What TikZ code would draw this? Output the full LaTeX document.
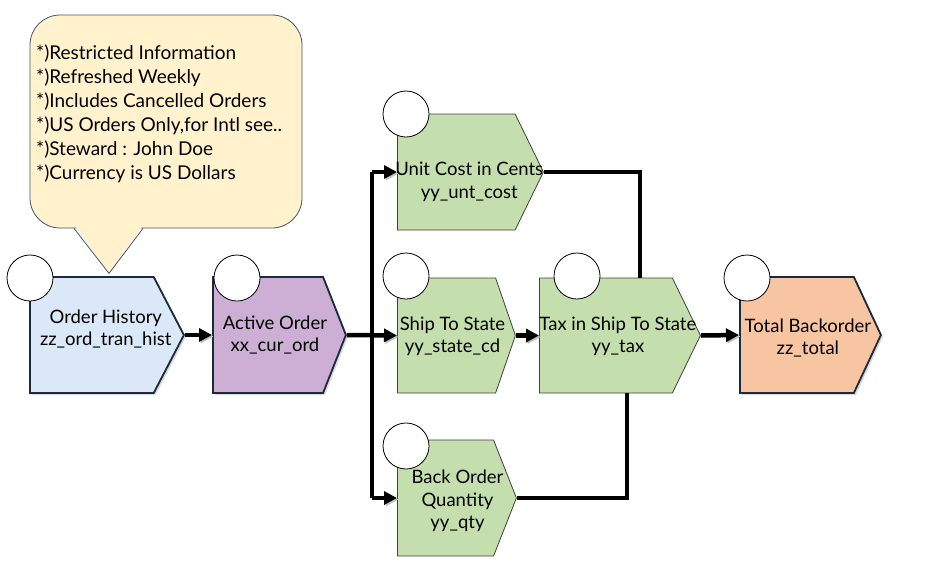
\documentclass[tikz,border=0pt]{standalone}
\usepackage{fontspec}
\setmainfont{Lato}
\usetikzlibrary{arrows.meta, positioning, shapes.symbols, shadows, calc}

\definecolor{notefill}{HTML}{FFF2CC}
\definecolor{noteline}{HTML}{44546A}
\definecolor{navy}{HTML}{1B2A3C}
\definecolor{histfill}{HTML}{DAE8F7}
\definecolor{activefill}{HTML}{CDAFD5}
\definecolor{fieldfill}{HTML}{C4DFAD}
\definecolor{totalfill}{HTML}{F8C5A2}

\begin{document}
\begin{tikzpicture}[
    x=1pt, y=-1pt,
    box/.style={
        signal,
        signal to=east,
        minimum height=116pt,
        inner sep=0pt,
        anchor=west,
    },
    stage/.style={
        box,
        draw=navy,
        line width=1.8pt,
        drop shadow={shadow xshift=2pt, shadow yshift=-2pt, opacity=0.3},
    },
    field/.style={
        box,
        draw=black!75,
        line width=0.8pt,
        fill=fieldfill,
    },
    stagetext/.style={
        align=center,
        font=\fontsize{18.5}{22.5}\selectfont,
        inner sep=0pt,
    },
    marker/.style={
        circle,
        draw,
        fill=white,
        minimum size=46pt,
        inner sep=0pt,
        line width=0.8pt,
    },
    flow/.style={
        link,
        -{Triangle[length=13pt, width=13pt]},
    },
    link/.style={
        line width=4.5pt,
        preaction={draw=black!25, transform canvas={shift={(1.5pt,-1.5pt)}}},
    },
    notebox/.style={
        draw=noteline,
        fill=notefill,
        rounded corners=30pt,
        minimum width=272pt,
        minimum height=213pt,
        line width=0.8pt,
    },
    notetext/.style={
        align=left,
        font=\fontsize{19}{24}\selectfont,
        inner sep=0pt,
        anchor=north west,
    }
]
    \useasboundingbox (0,0) rectangle (928,560);

    % Callout
    \node[notebox] (note) at (166,121.5) {};
    \fill[notefill] ($(note.south)+(-91,-2)$) -- ($(note.south)+(-57,45)$) -- ($(note.south)+(-24,-2)$) -- cycle;
    \draw[noteline, line width=0.8pt] ($(note.south)+(-92,0)$) -- ($(note.south)+(-57,45)$) -- ($(note.south)+(-23,0)$);
    \node[notetext] (notetxt) at (36,45) {*)Restricted Information\\*)Refreshed Weekly\\*)Includes Cancelled Orders\\*)US Orders Only,for Intl see..\\*)Steward : John Doe\\*)Currency is US Dollars};

    % Stages
    \node[stage, fill=histfill, minimum width=154pt, signal pointer angle=125,
        label={[stagetext, xshift=14pt, yshift=6pt]center:{Order History\\zz\_ord\_tran\_hist}}] (hist) at (29,335) {};
    \node[stage, fill=activefill, minimum width=133pt, signal pointer angle=137,
        label={[stagetext, xshift=7pt]center:{Active Order\\xx\_cur\_ord}}] (active) at (212,335) {};
    \node[field, minimum width=146pt, signal pointer angle=128,
        label={[stagetext, xshift=13pt, yshift=-10pt]center:{Unit Cost in Cents\\yy\_unt\_cost}}] (unit) at (397,172) {};
    \node[field, minimum width=118pt, minimum height=115pt, signal pointer angle=142,
        label={[stagetext, xshift=6pt, yshift=-1pt]center:{Ship To State\\yy\_state\_cd}}] (ship) at (397,335.5) {};
    \node[field, minimum width=161pt, minimum height=115pt, signal pointer angle=128,
        label={[stagetext, xshift=12pt, yshift=-1pt]center:{Tax in Ship To State\\yy\_tax}}] (tax) at (539,335.5) {};
    \node[field, minimum width=119pt, signal pointer angle=137,
        label={[stagetext, xshift=12pt, yshift=-3pt]center:{Back Order\\Quantity\\yy\_qty}}] (back) at (397,498) {};
    \node[stage, fill=totalfill, minimum width=141pt, signal pointer angle=130,
        label={[stagetext, xshift=11pt, yshift=-3pt]center:{Total Backorder\\zz\_total}}] (total) at (739,335) {};

    % Markers
    \node[marker] (histmark) at (30,278) {};
    \node[marker] (activemark) at (237,278) {};
    \node[marker] (unitmark) at (406,114) {};
    \node[marker] (shipmark) at (406,276) {};
    \node[marker] (taxmark) at (577,276) {};
    \node[marker] (backmark) at (406,446) {};
    \node[marker] (totalmark) at (747,278) {};

    % Connectors
    \coordinate (bustop) at (372,172);
    \coordinate (busbot) at (372,498);
    \draw[flow] (hist.east) -- (active.west);
    \draw[link] (bustop) -- (busbot);
    \draw[flow] (active.east) -- (ship.west);
    \draw[flow] (bustop) -- (unit.west);
    \draw[flow] (busbot) -- (back.west);
    \draw[flow] (ship.east) -- (tax.west);
    \draw[link] (unit.east) -| ([xshift=34pt]tax.north);
    \draw[link] ([xshift=21pt]tax.south) |- (back.east);
    \draw[flow] (tax.east) -- (total.west);

\end{tikzpicture}
\end{document}
